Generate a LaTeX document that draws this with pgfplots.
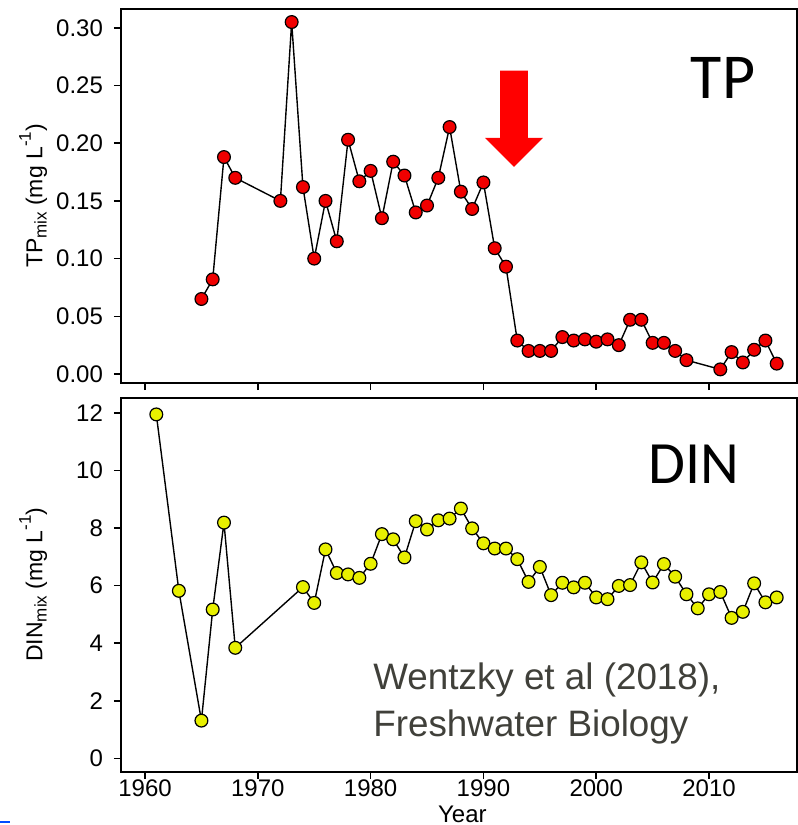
\documentclass[border=0pt]{standalone}
\usepackage{fontspec}
\setmainfont{Liberation Sans}
\newfontfamily\carlito{Carlito}
\usepackage{pgfplots}
\pgfplotsset{compat=1.18}
\definecolor{tpred}{RGB}{240,0,0}
\definecolor{dinyel}{RGB}{232,240,0}
\definecolor{cite}{RGB}{64,64,58}
\definecolor{arrowred}{RGB}{255,0,0}
\newcommand{\sub}[1]{\raisebox{-0.35ex}{\fontsize{8.5}{9}\selectfont #1}}
\newcommand{\sups}[1]{\raisebox{0.95ex}{\fontsize{8.5}{9}\selectfont #1}}
\pgfplotsset{panel/.style={
  scale only axis, width=338pt, height=187pt,
  xmin=1957.87, xmax=2017.8,
  xtick={1960,1970,1980,1990,2000,2010},
  tick pos=left, tick align=outside,
  major tick length=3.5pt,
  axis line style={line width=0.9pt},
  major tick style={black, line width=0.8pt},
  tick label style={font=\fontsize{12}{14}\selectfont},
  yticklabel style={xshift=-2pt},
  xticklabel style={yshift=3pt},
  /pgf/number format/assume math mode=true,
  /pgf/number format/1000 sep={},
  scaled ticks=false,
  ylabel style={font=\fontsize{11.5}{13}\selectfont, at={(axis description cs:-0.130,0.5)}, anchor=center},
  clip=false,
}}
\begin{document}
\begin{tikzpicture}
\useasboundingbox (0,0) rectangle (399pt,-412.5pt);
% top panel
\begin{axis}[panel, at={(60.5pt,-191.5pt)}, anchor=south west,
  ymin=-0.0078, ymax=0.3163,
  ytick={0,0.05,0.10,0.15,0.20,0.25,0.30},
  xticklabels={},
  yticklabel style={/pgf/number format/.cd, fixed, fixed zerofill, precision=2},
  ylabel={TP\sub{mix} (mg L\sups{-1})}]
\addplot[black, line width=0.7pt, mark=*, mark size=3.2pt,
  mark options={fill=tpred, draw=black, line width=0.6pt}] coordinates {
(1965,0.065) (1966,0.082) (1967,0.188) (1968,0.170) (1972,0.150) (1973,0.305)
(1974,0.162) (1975,0.100) (1976,0.150) (1977,0.115) (1978,0.203) (1979,0.167)
(1980,0.176) (1981,0.135) (1982,0.184) (1983,0.172) (1984,0.140) (1985,0.146)
(1986,0.170) (1987,0.214) (1988,0.158) (1989,0.143) (1990,0.166) (1991,0.109)
(1992,0.093) (1993,0.029) (1994,0.020) (1995,0.020) (1996,0.020) (1997,0.032)
(1998,0.029) (1999,0.030) (2000,0.028) (2001,0.030) (2002,0.025) (2003,0.047)
(2004,0.047) (2005,0.027) (2006,0.027) (2007,0.020) (2008,0.012) (2011,0.004)
(2012,0.019) (2013,0.010) (2014,0.021) (2015,0.029) (2016,0.009)
};
\fill[arrowred] (axis cs:1991.47,0.2628) -- (axis cs:1993.95,0.2628) -- (axis cs:1993.95,0.2047)
  -- (axis cs:1995.28,0.2047) -- (axis cs:1992.71,0.1795) -- (axis cs:1990.14,0.2047)
  -- (axis cs:1991.47,0.2047) -- cycle;
\node[font=\carlito\fontsize{32}{36}\selectfont, anchor=center] at (axis cs:2011.24,0.2567) {TP};
\end{axis}
% bottom panel
\begin{axis}[panel, at={(60.5pt,-385.85pt)}, anchor=south west,
  ymin=-0.465, ymax=12.53,
  ytick={0,2,4,6,8,10,12},
  xlabel={Year},
  xlabel style={font=\fontsize{12}{14}\selectfont, at={(axis description cs:0.505,0)}, anchor=center, yshift=-21.5pt},
  ylabel={DIN\sub{mix} (mg L\sups{-1})}]
\addplot[black, line width=0.7pt, mark=*, mark size=3.2pt,
  mark options={fill=dinyel, draw=black, line width=0.6pt}] coordinates {
(1961,11.95) (1963,5.82) (1965,1.31) (1966,5.17) (1967,8.19) (1968,3.84)
(1974,5.95) (1975,5.40) (1976,7.26) (1977,6.44) (1978,6.39) (1979,6.27)
(1980,6.76) (1981,7.79) (1982,7.61) (1983,6.98) (1984,8.24) (1985,7.95)
(1986,8.27) (1987,8.33) (1988,8.68) (1989,7.99) (1990,7.47) (1991,7.29)
(1992,7.29) (1993,6.92) (1994,6.13) (1995,6.65) (1996,5.67) (1997,6.10)
(1998,5.94) (1999,6.10) (2000,5.59) (2001,5.53) (2002,5.99) (2003,6.02)
(2004,6.81) (2005,6.11) (2006,6.75) (2007,6.31) (2008,5.70) (2009,5.21)
(2010,5.70) (2011,5.78) (2012,4.88) (2013,5.09) (2014,6.08) (2015,5.42)
(2016,5.59)
};
\node[font=\carlito\fontsize{30}{34}\selectfont, anchor=center] at (axis cs:2008.67,10.22) {DIN};
\node[font=\fontsize{18.4}{23.5}\selectfont, text=cite, align=left, anchor=west, inner sep=0pt] at (axis cs:1980.21,1.90) {Wentzky et al (2018),\\Freshwater Biology};
\end{axis}
\draw[blue!70!cyan, line width=1pt] (0,-411.2pt) -- (5pt,-411.2pt);
\end{tikzpicture}
\end{document}
